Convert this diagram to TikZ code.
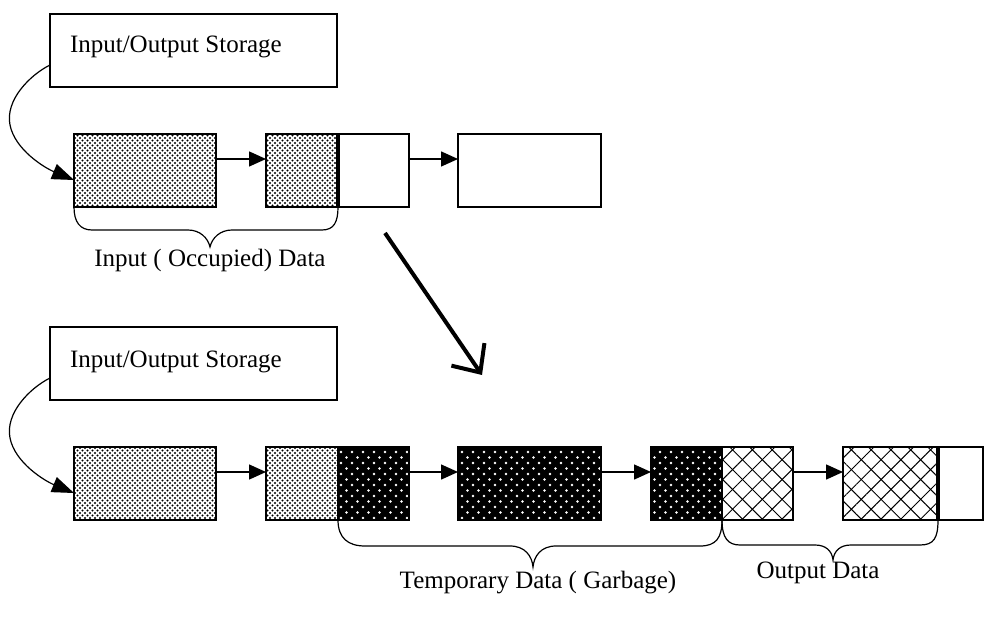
\documentclass[tikz,border=0pt]{standalone}
\usepackage{fontspec}
\setmainfont{Liberation Serif}
\usetikzlibrary{patterns.meta,arrows.meta,calc}
\begin{document}
\begin{tikzpicture}[x=1pt,y=-1pt,
  box/.style={draw,line width=2pt,inner sep=0pt,outer sep=0pt,minimum height=73pt},
  light/.style={preaction={pattern={Dots[distance=5pt,radius=1.1pt]}},
                preaction={pattern={Dots[distance=5pt,radius=1.1pt,xshift=2.5pt,yshift=2.5pt]}}},
  dark/.style={preaction={fill=black},
               preaction={pattern={Dots[distance=11pt,radius=1.3pt]},pattern color=white},
               preaction={pattern={Dots[distance=11pt,radius=1.3pt,xshift=5.5pt,yshift=5.5pt]},pattern color=white}},
  cross/.style={preaction={pattern={Lines[angle=45,distance=14pt,line width=1pt]}},
                preaction={pattern={Lines[angle=-45,distance=14pt,line width=1pt]}}},
  lbl/.style={font=\fontsize{25}{30}\selectfont,inner sep=0pt,outer sep=0pt},
  conn/.style={line width=1.5pt,-{Triangle[length=17pt,width=15pt]}},
  curv/.style={line width=1.2pt,-{Triangle[length=22pt,width=16pt]}},
  brace/.style={line width=1.2pt},
  divider/.style={line width=3.5pt}
]
\useasboundingbox (0,0) rectangle (985,628);

% ---------- top half ----------
\node[box,minimum width=287pt] (st1) at (193.5,50.5) {};
\node[lbl,anchor=base west] (st1t) at (70,53) {Input/Output Storage};

\node[box,light,minimum width=142pt] (t1) at (145,170.5) {};
\node[box,light,minimum width=72pt] (t2a) at (302,170.5) {};
\node[box,minimum width=71pt] (t2b) at (373.5,170.5) {};
\node[box,minimum width=143pt] (t3) at (529.5,170.5) {};
\draw[divider] (t2a.north east) -- (t2a.south east);

\draw[conn] ($(t1.north east)+(0,25)$) -- ($(t2a.north west)+(0,25)$);
\draw[conn] ($(t2b.north east)+(0,25)$) -- ($(t3.north west)+(0,25)$);

\draw[curv] ($(st1.south west)+(0,-22)$) .. controls (30,75) and (5,100) .. (10,125)
  .. controls (15,150) and (45,168) .. ($(t1.north west)+(0,46)$);

\coordinate (tip1) at (210,247);
\draw[brace] (t1.south west) .. controls (74,222) and (80,230) .. (92,230) -- (188,230)
  .. controls (200,230) and (208,238) .. (tip1)
  .. controls (212,238) and (220,230) .. (232,230) -- (322,230)
  .. controls (334,230) and (338,222) .. (t2a.south east);
\node[lbl,anchor=base] (lab1) at (210,267) {Input ( Occupied) Data};

% ---------- big arrow ----------
\coordinate (bigS) at (385,233);
\coordinate (bigE) at (482,375);
\draw[line width=4pt,-{Straight Barb[length=22pt,width=40pt]}] (bigS) -- (bigE);

% ---------- bottom half ----------
\node[box,minimum width=287pt] (st2) at (193.5,363.5) {};
\node[lbl,anchor=base west] (st2t) at (70,367) {Input/Output Storage};

\node[box,light,minimum width=142pt] (b1) at (145,483.5) {};
\node[box,light,minimum width=72pt] (b2a) at (302,483.5) {};
\node[box,dark,minimum width=71pt] (b2b) at (373.5,483.5) {};
\node[box,dark,minimum width=143pt] (b3) at (529.5,483.5) {};
\node[box,dark,minimum width=71pt] (b4a) at (686.5,483.5) {};
\node[box,cross,minimum width=71pt] (b4b) at (757.5,483.5) {};
\node[box,cross,minimum width=95pt] (b5a) at (890.5,483.5) {};
\node[box,minimum width=45pt] (b5b) at (960.5,483.5) {};
\draw[divider] (b5a.north east) -- (b5a.south east);

\draw[conn] ($(b1.north east)+(0,25)$) -- ($(b2a.north west)+(0,25)$);
\draw[conn] ($(b2b.north east)+(0,25)$) -- ($(b3.north west)+(0,25)$);
\draw[conn] ($(b3.north east)+(0,25)$) -- ($(b4a.north west)+(0,25)$);
\draw[conn] ($(b4b.north east)+(0,25)$) -- ($(b5a.north west)+(0,25)$);

\draw[curv] ($(st2.south west)+(0,-22)$) .. controls (30,388) and (5,413) .. (10,438)
  .. controls (15,463) and (45,481) .. ($(b1.north west)+(0,46)$);

\coordinate (tip2) at (533,567);
\draw[brace] (b2b.south west) .. controls (338,538) and (348,546) .. (365,546) -- (510,546)
  .. controls (525,546) and (532,556) .. (tip2)
  .. controls (534,556) and (541,546) .. (556,546) -- (700,546)
  .. controls (716,546) and (722,538) .. (b4a.south east);
\node[lbl,anchor=base] (lab2) at (538,588) {Temporary Data ( Garbage)};

\coordinate (tip3) at (833,560);
\draw[brace] (b4b.south west) .. controls (722,538) and (728,545) .. (740,545) -- (815,545)
  .. controls (826,545) and (832,551) .. (tip3)
  .. controls (834,551) and (840,545) .. (851,545) -- (920,545)
  .. controls (934,545) and (938,538) .. (b5a.south east);
\node[lbl,anchor=base] (lab3) at (818,578) {Output Data};
\end{tikzpicture}
\end{document}
